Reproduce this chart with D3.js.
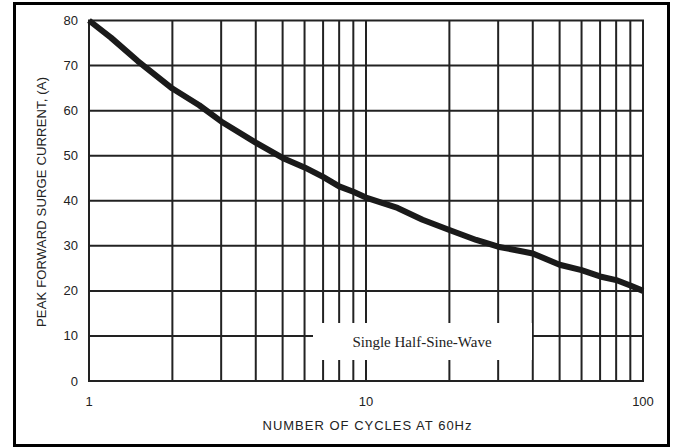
<!DOCTYPE html>
<html><head><meta charset="utf-8">
<script src="https://cdn.jsdelivr.net/npm/d3@7"></script>
<style>body{margin:0;background:#fff}svg{display:block}</style>
</head><body>
<svg id="c" width="676" height="448"></svg>
<script>
const cycles = [1, 1.2, 1.5, 2, 2.5, 3, 4, 5, 6, 7, 8, 9, 10, 13, 16, 20, 25, 30, 40, 50, 60, 70, 80, 90, 100];
const current = [80, 76.2, 71, 64.9, 61.2, 57.6, 52.9, 49.5, 47.4, 45.3, 43.2, 42, 40.7, 38.4, 35.8, 33.5, 31.3, 29.8, 28.3, 25.8, 24.6, 23.2, 22.4, 21.2, 20];
const xGrid = [1,2,3,4,5,6,7,8,9,10,20,30,40,50,60,70,80,90,100];
const xTicks = [1, 10, 100];
const yTicks = [0,10,20,30,40,50,60,70,80];
const xTitle = "NUMBER OF CYCLES AT 60Hz";
const yTitle = "PEAK FORWARD SURGE CURRENT, (A)";
const legendText = "Single Half-Sine-Wave";

const svg = d3.select("#c");
const x = d3.scaleLog().domain([1,100]).range([89,643]);
const y = d3.scaleLinear().domain([0,80]).range([381,20.5]);

// outer border
svg.append("rect").attr("x",14.5).attr("y",3.5).attr("width",654).attr("height",442)
  .attr("fill","none").attr("stroke","#000").attr("stroke-width",3);

const g = svg.append("g");
g.selectAll("line.v").data(xGrid).join("line").attr("class","v")
  .attr("x1",d=>x(d)).attr("x2",d=>x(d)).attr("y1",y(0)).attr("y2",y(80))
  .attr("stroke","#222").attr("stroke-width",2);
g.selectAll("line.h").data(yTicks).join("line").attr("class","h")
  .attr("x1",x(1)-1).attr("x2",x(100)+1).attr("y1",d=>y(d)).attr("y2",d=>y(d))
  .attr("stroke","#222").attr("stroke-width",2);

// legend box
svg.append("rect").attr("x",313).attr("y",323).attr("width",219).attr("height",37).attr("fill","#fff");
svg.append("text").attr("x",422).attr("y",347).attr("text-anchor","middle")
  .attr("font-family","Liberation Serif, Times New Roman, serif").attr("font-size",15).attr("fill","#222")
  .text(legendText);

// curve
svg.append("path").datum(cycles.map((c,i)=>[c,current[i]]))
  .attr("d", d3.line().x(d=>x(d[0])).y(d=>y(d[1])))
  .attr("fill","none").attr("stroke","#1a1a1a").attr("stroke-width",6).attr("stroke-linejoin","round");

// axes labels
const font = "Liberation Sans, Arial, sans-serif";
svg.selectAll("text.yt").data(yTicks).join("text").attr("class","yt")
  .attr("x",78).attr("y",d=>y(d)).attr("dy","0.35em").attr("text-anchor","end")
  .attr("font-family",font).attr("font-size",13).attr("fill","#222").text(d=>d);
svg.selectAll("text.xt").data(xTicks).join("text").attr("class","xt")
  .attr("x",d=>x(d)).attr("y",406).attr("text-anchor","middle")
  .attr("font-family",font).attr("font-size",13).attr("fill","#222").text(d=>d);
svg.append("text").attr("x",367).attr("y",430).attr("text-anchor","middle")
  .attr("font-family",font).attr("font-size",13).attr("fill","#222")
  .attr("textLength",209).attr("lengthAdjust","spacing").text(xTitle);
svg.append("text").attr("transform","translate(46,202) rotate(-90)").attr("text-anchor","middle")
  .attr("font-family",font).attr("font-size",13).attr("fill","#222")
  .attr("textLength",250).attr("lengthAdjust","spacing").text(yTitle);
</script>
</body></html>
